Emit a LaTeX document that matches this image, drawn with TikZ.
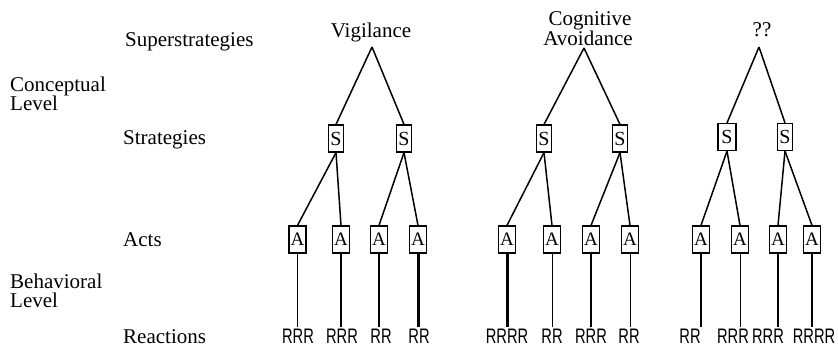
\documentclass[tikz,border=0pt]{standalone}
\usepackage{fontspec}
\setmainfont{Liberation Serif}
\newfontfamily\reactfont[FakeStretch=0.7]{Liberation Sans}
\begin{document}
\begin{tikzpicture}[x=1pt,y=-1pt,
  lbl/.style={font=\fontsize{21}{20}\selectfont, inner sep=0pt, anchor=base west},
  ttl/.style={font=\fontsize{21}{20}\selectfont, inner sep=0pt, anchor=base, align=center},
  sbox/.style={draw, line width=1.2pt, minimum width=15pt, minimum height=27pt, inner sep=0pt,
    font=\fontsize{20}{20}\selectfont},
  abox/.style={draw, line width=1.2pt, minimum width=17pt, minimum height=27pt, inner sep=0pt,
    font=\fontsize{19}{19}\selectfont},
  rlbl/.style={font=\reactfont\fontsize{21}{20}\selectfont, inner sep=0pt, anchor=base},
  branch/.style={line width=1.5pt},
  stem/.style={line width=#1}]
\useasboundingbox (0,0) rectangle (838,347);

% level captions
\node[lbl] (lsuper) at (125,47) {Superstrategies};
\node[lbl] (lconc1) at (10,92) {Conceptual};
\node[lbl] (lconc2) at (10,111) {Level};
\node[lbl] (lstrat) at (123,145) {Strategies};
\node[lbl] (lacts)  at (123,247) {Acts};
\node[lbl] (lbeh1)  at (10,289) {Behavioral};
\node[lbl] (lbeh2)  at (10,308) {Level};
\node[lbl] (lreact) at (123,344) {Reactions};

% ---------- Vigilance ----------
\node[ttl] (vt) at (371,38) {Vigilance};
\coordinate (v0) at (372,47);
\node[sbox] (vs1) at (336,138.5) {S};
\node[sbox] (vs2) at (404,138.5) {S};
\node[abox] (va1) at (297.5,239.5) {A};
\node[abox] (va2) at (341,239.5) {A};
\node[abox] (va3) at (379,239.5) {A};
\node[abox] (va4) at (418,239.5) {A};
\node[rlbl] (vr1) at (298,344) {RRR};
\node[rlbl] (vr2) at (342,344) {RRR};
\node[rlbl] (vr3) at (381,344) {RR};
\node[rlbl] (vr4) at (419,344) {RR};
\draw[branch] (v0) -- (vs1.north);
\draw[branch] (v0) -- (vs2.north);
\draw[branch] (vs1.south) -- (va1.north);
\draw[branch] (vs1.south) -- (va2.north);
\draw[branch] (vs2.south) -- (va3.north);
\draw[branch] (vs2.south) -- (va4.north);
\draw[stem=1pt]   (va1.south) -- (va1.south |- 0,327);
\draw[stem=1.3pt] (va2.south) -- (va2.south |- 0,327);
\draw[stem=2pt]   (va3.south) -- (va3.south |- 0,327);
\draw[stem=3pt]   (va4.south) -- (va4.south |- 0,327);

% ---------- Cognitive Avoidance ----------
\node[ttl] (ct1) at (590,26) {Cognitive};
\node[ttl] (ct2) at (588,46) {Avoidance};
\coordinate (c0) at (584,48);
\node[sbox] (cs1) at (544,138.5) {S};
\node[sbox] (cs2) at (620,138.5) {S};
\node[abox] (ca1) at (507,239.5) {A};
\node[abox] (ca2) at (552,239.5) {A};
\node[abox] (ca3) at (591,239.5) {A};
\node[abox] (ca4) at (630,239.5) {A};
\node[rlbl] (cr1) at (507,344) {RRRR};
\node[rlbl] (cr2) at (552,344) {RR};
\node[rlbl] (cr3) at (591,344) {RRR};
\node[rlbl] (cr4) at (629,344) {RR};
\draw[branch] (c0) -- (cs1.north);
\draw[branch] (c0) -- (cs2.north);
\draw[branch] (cs1.south) -- (ca1.north);
\draw[branch] (cs1.south) -- (ca2.north);
\draw[branch] (cs2.south) -- (ca3.north);
\draw[branch] (cs2.south) -- (ca4.north);
\draw[stem=3pt]   (ca1.south) -- (ca1.south |- 0,327);
\draw[stem=1pt]   (ca2.south) -- (ca2.south |- 0,327);
\draw[stem=2.5pt] (ca3.south) -- (ca3.south |- 0,327);
\draw[stem=1pt]   (ca4.south) -- (ca4.south |- 0,327);

% ---------- ?? ----------
\node[ttl] (qt) at (762,37) {??};
\coordinate (q0) at (759,47);
\node[sbox, minimum width=18pt] (qs1) at (727,137) {S};
\node[sbox] (qs2) at (785,137) {S};
\node[abox] (qa1) at (701,239.5) {A};
\node[abox] (qa2) at (740,239.5) {A};
\node[abox] (qa3) at (778,239.5) {A};
\node[abox] (qa4) at (812,239.5) {A};
\node[rlbl] (qr1) at (690,344) {RR};
\node[rlbl] (qr2) at (733,344) {RRR};
\node[rlbl] (qr3) at (768,344) {RRR};
\node[rlbl] (qr4) at (814,344) {RRRR};
\draw[branch] (q0) -- (qs1.north);
\draw[branch] (q0) -- (qs2.north);
\draw[branch] (qs1.south) -- (qa1.north);
\draw[branch] (qs1.south) -- (qa2.north);
\draw[branch] (qs2.south) -- (qa3.north);
\draw[branch] (qs2.south) -- (qa4.north);
\draw[stem=2.5pt] (qa1.south) -- (qa1.south |- 0,327);
\draw[stem=1pt]   (qa2.south) -- (qa2.south |- 0,327);
\draw[stem=2.5pt] (qa3.south) -- (qa3.south |- 0,327);
\draw[stem=1.7pt] (qa4.south) -- (qa4.south |- 0,327);
\end{tikzpicture}
\end{document}
